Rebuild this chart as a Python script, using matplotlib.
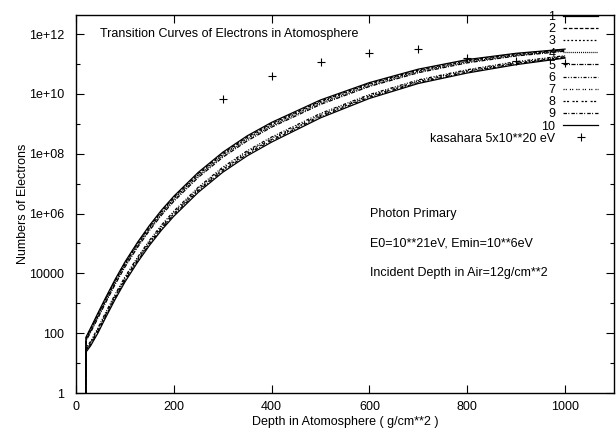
import numpy as np
import matplotlib
matplotlib.use("Agg")
import matplotlib.pyplot as plt

plt.rcParams['font.family'] = ['Liberation Sans', 'DejaVu Sans']
plt.rcParams['lines.scale_dashes'] = False

# Depth grid (g/cm**2)
depth = [20, 20.5, 30, 45, 60, 80, 100, 125, 150, 175, 200, 250, 300, 350, 400, 500, 600, 700, 800, 900, 1000]

# log10(number of electrons) for the ten transition curves
log_c1 = [0, 1.87, 2.18, 2.68, 3.17, 3.80, 4.38, 5.02, 5.60, 6.12, 6.58, 7.38, 8.05, 8.60, 9.05, 9.80, 10.38, 10.83, 11.15, 11.36, 11.50]
log_c2 = [0, 1.84, 2.14, 2.64, 3.13, 3.76, 4.34, 4.98, 5.56, 6.08, 6.54, 7.34, 8.01, 8.56, 9.01, 9.76, 10.35, 10.80, 11.12, 11.34, 11.48]
log_c3 = [0, 1.81, 2.11, 2.60, 3.09, 3.72, 4.30, 4.94, 5.52, 6.04, 6.50, 7.30, 7.97, 8.52, 8.97, 9.73, 10.32, 10.77, 11.10, 11.31, 11.46]
log_c4 = [0, 1.78, 2.07, 2.56, 3.05, 3.68, 4.26, 4.90, 5.48, 6.00, 6.46, 7.26, 7.93, 8.48, 8.93, 9.69, 10.28, 10.74, 11.07, 11.29, 11.45]
log_c5 = [0, 1.75, 2.03, 2.51, 3.00, 3.63, 4.21, 4.85, 5.43, 5.95, 6.41, 7.21, 7.88, 8.43, 8.89, 9.65, 10.25, 10.71, 11.04, 11.27, 11.43]
log_c6 = [0, 1.50, 1.73, 2.18, 2.67, 3.30, 3.88, 4.52, 5.10, 5.62, 6.08, 6.88, 7.55, 8.10, 8.56, 9.35, 9.98, 10.47, 10.81, 11.08, 11.28]
log_c7 = [0, 1.47, 1.69, 2.14, 2.63, 3.26, 3.84, 4.48, 5.06, 5.58, 6.04, 6.84, 7.51, 8.06, 8.52, 9.31, 9.95, 10.44, 10.79, 11.05, 11.26]
log_c8 = [0, 1.44, 1.66, 2.10, 2.59, 3.22, 3.80, 4.44, 5.02, 5.54, 6.00, 6.80, 7.47, 8.02, 8.48, 9.28, 9.92, 10.41, 10.76, 11.03, 11.24]
log_c9 = [0, 1.41, 1.62, 2.06, 2.55, 3.18, 3.76, 4.40, 4.98, 5.50, 5.96, 6.76, 7.43, 7.98, 8.44, 9.24, 9.89, 10.38, 10.73, 11.01, 11.22]
log_c10 = [0, 1.37, 1.58, 2.01, 2.50, 3.13, 3.71, 4.35, 4.93, 5.45, 5.91, 6.71, 7.38, 7.93, 8.39, 9.20, 9.85, 10.35, 10.70, 10.98, 11.20]

curve_labels = ['1', '2', '3', '4', '5', '6', '7', '8', '9', '10']

# Kasahara 5x10**20 eV points
kas_depth = [300, 400, 500, 600, 700, 800, 900, 1000]
kas_n = [6.8e9, 4.1e10, 1.2e11, 2.4e11, 3.2e11, 1.6e11, 1.3e11, 1.1e11]

curves = [log_c1, log_c2, log_c3, log_c4, log_c5, log_c6, log_c7, log_c8, log_c9, log_c10]
styles = ['-', (0, (2.6, 1.3)), (0, (1.3, 1.5)), (0, (0.7, 0.7)), (0, (3.0, 1.0, 0.7, 1.0)),
          (0, (2.2, 1.2, 0.7, 1.2, 0.7, 1.2)), (0, (0.8, 0.8, 0.8, 2.2)), (0, (1.5, 1.0, 1.5, 2.5)),
          (0, (2.5, 1.0, 0.7, 1.5)), '-']

W, H = 616, 434
fig = plt.figure(figsize=(W / 100, H / 100), dpi=100)
left, right, top, bottom = 76, 614, 15, 393
ax = fig.add_axes([left / W, (H - bottom) / H, (right - left) / W, (bottom - top) / H])

for lg, ls, lab in zip(curves, styles, curve_labels):
    ax.plot(depth, 10.0 ** np.array(lg), color='black', lw=0.9, linestyle=ls, label=lab)

ax.plot(kas_depth, kas_n, linestyle='none', marker='+', color='black', ms=5.5, mew=0.8,
        label='kasahara 5x10**20 eV')

ax.set_yscale('log')
ax.set_xlim(0, 1100)
ax.set_ylim(1, 10 ** 12.64)

yt = [1, 1e2, 1e4, 1e6, 1e8, 1e10, 1e12]
ax.set_yticks(yt)
ax.set_yticklabels(['1', '100', '10000', '1e+06', '1e+08', '1e+10', '1e+12'])
ax.set_yticks([10.0 ** k for k in range(1, 13, 2)], minor=True)
ax.yaxis.set_minor_formatter(matplotlib.ticker.NullFormatter())
ax.set_xticks([0, 200, 400, 600, 800, 1000])
ax.tick_params(which='major', direction='in', length=6, width=0.8, top=True, right=True,
               labelsize=9)
ax.tick_params(which='minor', direction='in', length=3, width=0.8, top=False, right=True)
ax.tick_params(axis='y', which='major', pad=8.5)
ax.tick_params(axis='x', which='major', pad=6)
ax.tick_params(axis='x', which='minor', bottom=False, top=False)
for s in ax.spines.values():
    s.set_linewidth(1.0)

ax.set_xlabel('Depth in Atomosphere ( g/cm**2 )', fontsize=9, labelpad=2)
ax.set_ylabel('Numbers of Electrons', fontsize=9, labelpad=0)

ax.text(50, 1e12, 'Transition Curves of Electrons in Atomosphere', fontsize=9, va='center', ha='left')
ax.text(601, 1e6, 'Photon Primary', fontsize=9, va='center', ha='left')
ax.text(601, 1e5, 'E0=10**21eV, Emin=10**6eV', fontsize=9, va='center', ha='left')
ax.text(601, 1e4, 'Incident Depth in Air=12g/cm**2', fontsize=9, va='center', ha='left')

leg = ax.legend(loc='upper right', bbox_to_anchor=(1 - 16 / (right - left), 1 + 4 / (bottom - top)),
                frameon=False, markerfirst=False, fontsize=9, handlelength=2.8,
                handletextpad=0.6, labelspacing=0.015, borderpad=0, borderaxespad=0)

fig.savefig('out.png', dpi=100)
